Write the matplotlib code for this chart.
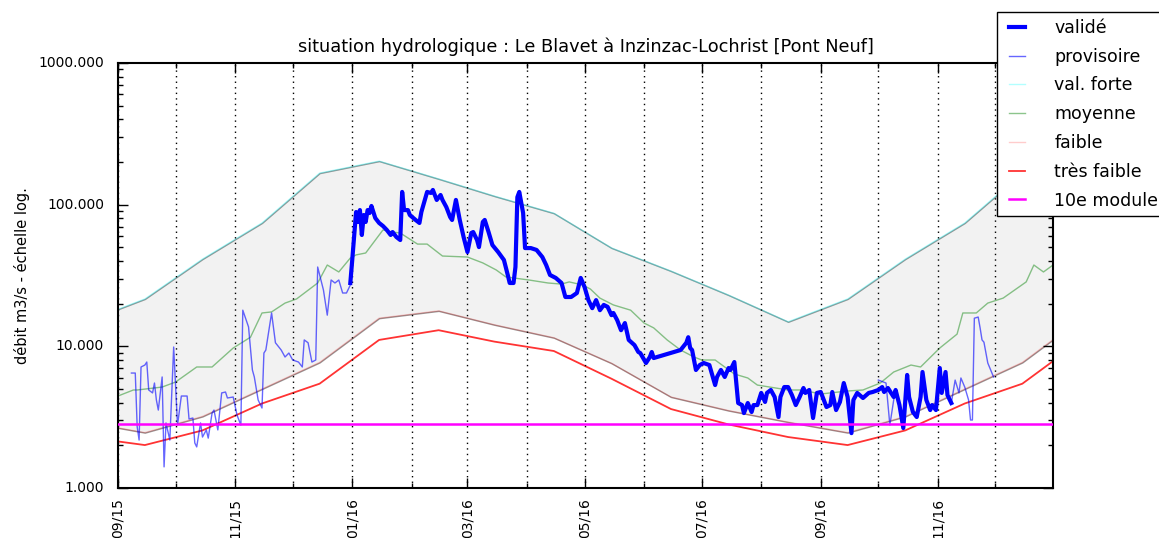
import matplotlib
matplotlib.use('Agg')
import matplotlib.pyplot as plt
import matplotlib.dates as mdates
from matplotlib.ticker import FormatStrFormatter, LogLocator, NullFormatter
import pandas as pd

# débits provisoires (fin 2015)
prov1_dates = ['2015-09-08', '2015-09-10', '2015-09-11', '2015-09-12', '2015-09-13', '2015-09-15',
               '2015-09-16', '2015-09-17', '2015-09-19', '2015-09-20', '2015-09-21', '2015-09-22',
               '2015-09-24', '2015-09-25', '2015-09-26', '2015-09-28', '2015-09-30', '2015-10-02',
               '2015-10-04', '2015-10-07', '2015-10-08', '2015-10-10', '2015-10-11', '2015-10-12',
               '2015-10-14', '2015-10-15', '2015-10-17', '2015-10-18', '2015-10-20', '2015-10-21',
               '2015-10-23', '2015-10-25', '2015-10-27', '2015-10-28', '2015-10-31', '2015-11-02',
               '2015-11-04', '2015-11-05', '2015-11-08', '2015-11-10', '2015-11-11', '2015-11-13',
               '2015-11-15', '2015-11-16', '2015-11-17', '2015-11-20', '2015-11-22', '2015-11-25',
               '2015-11-27', '2015-11-29', '2015-12-01', '2015-12-04', '2015-12-06', '2015-12-07',
               '2015-12-09', '2015-12-11', '2015-12-13', '2015-12-14', '2015-12-17', '2015-12-19',
               '2015-12-21', '2015-12-23', '2015-12-25', '2015-12-27', '2015-12-29', '2015-12-31']
prov1_vals = [6.48, 6.48, 2.70, 2.18, 7.15, 7.38,
              7.75, 4.92, 4.69, 5.51, 4.18, 3.55,
              6.08, 1.41, 2.88, 2.18, 9.89, 2.78,
              4.46, 4.46, 3.07, 3.12, 2.08, 1.95,
              2.88, 2.29, 2.57, 2.25, 3.38, 3.55,
              2.57, 4.69, 4.76, 4.32, 4.39, 3.27,
              2.78, 18.0, 13.7, 6.81, 6.08, 4.18,
              3.67, 8.97, 9.42, 17.2, 10.6, 9.42,
              8.41, 8.97, 8.01, 7.75, 7.15, 11.1,
              10.6, 7.75, 8.01, 36.3, 25.0, 16.6,
              29.4, 28.0, 29.4, 23.8, 23.8, 27.1]

# débits validés 2016
valide_dates = ['2015-12-31', '2016-01-01', '2016-01-03', '2016-01-04', '2016-01-05', '2016-01-06',
                '2016-01-07', '2016-01-08', '2016-01-09', '2016-01-10', '2016-01-11', '2016-01-13',
                '2016-01-15', '2016-01-17', '2016-01-19', '2016-01-21', '2016-01-22', '2016-01-24',
                '2016-01-26', '2016-01-27', '2016-01-28', '2016-01-30', '2016-01-31', '2016-02-03',
                '2016-02-05', '2016-02-06', '2016-02-09', '2016-02-11', '2016-02-12', '2016-02-14',
                '2016-02-16', '2016-02-17', '2016-02-19', '2016-02-21', '2016-02-22', '2016-02-24',
                '2016-02-26', '2016-02-28', '2016-03-01', '2016-03-03', '2016-03-04', '2016-03-06',
                '2016-03-07', '2016-03-09', '2016-03-10', '2016-03-12', '2016-03-14', '2016-03-17',
                '2016-03-20', '2016-03-22', '2016-03-23', '2016-03-25', '2016-03-26', '2016-03-27',
                '2016-03-28', '2016-03-30', '2016-03-31', '2016-04-03', '2016-04-06', '2016-04-09',
                '2016-04-11', '2016-04-13', '2016-04-16', '2016-04-19', '2016-04-21', '2016-04-24',
                '2016-04-27', '2016-04-29', '2016-05-01', '2016-05-03', '2016-05-05', '2016-05-07',
                '2016-05-09', '2016-05-11', '2016-05-13', '2016-05-15', '2016-05-16', '2016-05-18',
                '2016-05-20', '2016-05-22', '2016-05-24', '2016-05-27', '2016-05-29', '2016-05-30',
                '2016-06-02', '2016-06-04', '2016-06-05', '2016-06-06', '2016-06-20', '2016-06-23',
                '2016-06-24', '2016-06-25', '2016-06-26', '2016-06-28', '2016-06-30', '2016-07-02',
                '2016-07-05', '2016-07-08', '2016-07-09', '2016-07-11', '2016-07-13', '2016-07-15',
                '2016-07-16', '2016-07-18', '2016-07-20', '2016-07-22', '2016-07-23', '2016-07-25',
                '2016-07-27', '2016-07-28', '2016-07-30', '2016-08-01', '2016-08-03', '2016-08-04',
                '2016-08-06', '2016-08-08', '2016-08-10', '2016-08-11', '2016-08-13', '2016-08-15',
                '2016-08-17', '2016-08-19', '2016-08-21', '2016-08-23', '2016-08-24', '2016-08-26',
                '2016-08-28', '2016-08-30', '2016-09-01', '2016-09-04', '2016-09-06', '2016-09-07',
                '2016-09-09', '2016-09-11', '2016-09-13', '2016-09-15', '2016-09-17', '2016-09-18',
                '2016-09-20', '2016-09-23', '2016-09-26', '2016-09-28', '2016-10-01', '2016-10-03',
                '2016-10-04', '2016-10-06', '2016-10-09', '2016-10-10', '2016-10-12', '2016-10-14',
                '2016-10-16', '2016-10-17', '2016-10-19', '2016-10-21', '2016-10-23', '2016-10-24',
                '2016-10-26', '2016-10-28', '2016-10-29', '2016-10-31', '2016-11-02', '2016-11-03',
                '2016-11-05', '2016-11-06', '2016-11-08']
valide_vals = [28.0, 40.7, 88.7, 75.5, 91.6, 61.1,
               84.5, 75.5, 91.6, 87.3, 97.9, 80.5,
               74.3, 70.7, 66.3, 61.1, 64.1, 59.1,
               56.3, 123, 91.6, 91.6, 84.5, 78.0,
               74.3, 88.7, 123, 121, 127, 108,
               117, 108, 96.2, 81.8, 78.0, 108,
               78.0, 59.1, 46.3, 63.1, 64.1, 56.3,
               50.2, 75.5, 78.0, 64.1, 51.9, 46.3,
               40.7, 31.9, 28.0, 28.0, 36.3, 113,
               123, 87.3, 49.4, 49.4, 47.9, 42.7,
               37.5, 31.9, 30.4, 28.0, 22.3, 22.3,
               23.8, 30.4, 26.2, 21.2, 18.6, 21.2,
               18.0, 19.6, 19.0, 16.6, 17.2, 15.3,
               13.0, 14.6, 11.1, 10.2, 9.12, 8.97,
               7.63, 8.41, 9.12, 8.27, 9.42, 10.6,
               11.6, 9.73, 9.42, 6.81, 7.38, 7.63,
               7.38, 5.33, 6.08, 6.81, 6.08, 7.03,
               6.81, 7.75, 3.98, 3.85, 3.38, 3.98,
               3.44, 3.85, 3.85, 4.69, 4.05, 4.69,
               4.92, 4.39, 3.17, 4.39, 5.16, 5.16,
               4.53, 3.85, 4.39, 5.08, 4.69, 4.92,
               3.12, 4.69, 4.76, 3.73, 3.85, 4.76,
               3.55, 4.05, 5.51, 4.39, 2.44, 4.18,
               4.69, 4.32, 4.69, 4.76, 4.92, 5.16,
               4.76, 5.08, 4.39, 4.92, 3.85, 2.65,
               6.28, 4.39, 3.44, 3.17, 4.39, 6.59,
               4.18, 3.55, 3.85, 3.55, 7.03, 4.69,
               6.59, 4.53, 3.98]

# débits provisoires (fin 2016)
prov2_dates = ['2016-10-01', '2016-10-05', '2016-10-07', '2016-10-09', '2016-10-10', '2016-10-12',
               '2016-10-14', '2016-10-16', '2016-10-17', '2016-10-19', '2016-10-21', '2016-10-23',
               '2016-10-24', '2016-10-26', '2016-10-28', '2016-10-29', '2016-10-31', '2016-11-02',
               '2016-11-03', '2016-11-05', '2016-11-06', '2016-11-08', '2016-11-10', '2016-11-12',
               '2016-11-13', '2016-11-15', '2016-11-17', '2016-11-18', '2016-11-19', '2016-11-20',
               '2016-11-22', '2016-11-23', '2016-11-24', '2016-11-25', '2016-11-27', '2016-11-30']
prov2_vals = [5.78, 5.51, 2.78, 4.18, 4.92, 3.85,
              2.65, 6.28, 4.39, 3.44, 3.17, 4.39,
              6.59, 4.05, 3.55, 3.85, 3.55, 7.03,
              4.69, 6.59, 4.53, 3.98, 5.78, 4.69,
              5.98, 5.16, 4.18, 3.02, 3.02, 15.8,
              16.1, 13.5, 11.1, 10.7, 7.63, 6.08]

# débit moyen interannuel
moy_dates = ['2015-09-01', '2015-09-09', '2015-09-11', '2015-09-24', '2015-10-01', '2015-10-12',
             '2015-10-20', '2015-10-31', '2015-11-09', '2015-11-15', '2015-11-20', '2015-11-27',
             '2015-12-03', '2015-12-14', '2015-12-19', '2015-12-25', '2015-12-31', '2016-01-03',
             '2016-01-08', '2016-01-17', '2016-01-22', '2016-01-26', '2016-02-04', '2016-02-09',
             '2016-02-17', '2016-03-01', '2016-03-09', '2016-03-16', '2016-03-21', '2016-04-02',
             '2016-04-12', '2016-04-19', '2016-04-23', '2016-04-30', '2016-05-04', '2016-05-09',
             '2016-05-16', '2016-05-25', '2016-06-01', '2016-06-06', '2016-06-13', '2016-06-20',
             '2016-06-27', '2016-07-01', '2016-07-08', '2016-07-18', '2016-07-25', '2016-07-30',
             '2016-08-02', '2016-08-15', '2016-08-22', '2016-09-01', '2016-09-06', '2016-09-15',
             '2016-09-23', '2016-10-02', '2016-10-09', '2016-10-18', '2016-10-23', '2016-11-02',
             '2016-11-11', '2016-11-14', '2016-11-21', '2016-11-27', '2016-12-05', '2016-12-17',
             '2016-12-21', '2016-12-26', '2016-12-31']
moy_vals = [4.46, 4.92, 4.92, 5.16, 5.60, 7.15,
            7.15, 9.73, 11.6, 17.2, 17.5, 20.2,
            21.6, 28.0, 37.5, 33.5, 42.0, 44.2,
            45.6, 66.3, 64.1, 63.1, 52.7, 52.7,
            43.4, 42.7, 38.8, 34.6, 30.9, 29.4,
            28.0, 27.5, 28.5, 27.1, 25.4, 21.9,
            19.6, 18.0, 14.6, 13.5, 11.1, 9.42,
            8.41, 8.01, 8.01, 6.38, 5.98, 5.33,
            5.25, 4.92, 4.92, 4.61, 4.69, 4.84,
            4.92, 5.51, 6.59, 7.38, 7.15, 9.73,
            12.2, 17.2, 17.2, 20.2, 21.9, 28.5,
            37.5, 33.5, 37.5]

# statistiques mensuelles (janvier -> décembre), tracées au 15 du mois
val_forte_mois = [203, 152, 115, 87, 49.5, 34, 23, 14.9, 21.6, 41.3, 74.3, 167]
faible_mois = [15.8, 17.8, 14.2, 11.5, 7.6, 4.39, 3.52, 2.92, 2.46, 3.2, 5.0, 7.7]
tres_faible_mois = [11.1, 13.0, 10.8, 9.27, 5.91, 3.61, 2.81, 2.29, 2.01, 2.55, 3.95, 5.45]
module_10e = 2.83

stat_dates = pd.date_range('2015-08-01', '2017-01-01', freq='MS') + pd.Timedelta(days=14)
val_forte = [val_forte_mois[d.month - 1] for d in stat_dates]
faible = [faible_mois[d.month - 1] for d in stat_dates]
tres_faible = [tres_faible_mois[d.month - 1] for d in stat_dates]

plt.style.use('classic')
plt.rcParams['font.family'] = ['DejaVu Sans']

fig = plt.figure(figsize=(11.59, 5.38), dpi=100, facecolor='white')
ax = fig.add_axes([0.1018, 0.0929, 0.8068, 0.79])

# enveloppe grisée entre faible et val. forte (bord gris semi-transparent)
ax.fill_between(stat_dates, faible, val_forte, facecolor=(0, 0, 0, 0.05),
                edgecolor=(0, 0, 0, 0.4), lw=1, zorder=1)

ax.plot(pd.to_datetime(valide_dates), valide_vals, color='#0000ff', lw=3, label='validé', zorder=3)
ax.plot(pd.to_datetime(prov1_dates), prov1_vals, color='#0000ff', lw=1, alpha=0.6,
        label='provisoire', zorder=3)
ax.plot(pd.to_datetime(prov2_dates), prov2_vals, color='#0000ff', lw=1, alpha=0.6, zorder=3)
ax.plot(stat_dates, val_forte, color='#00ffff', lw=1, alpha=0.3, label='val. forte', zorder=2)
ax.plot(pd.to_datetime(moy_dates), moy_vals, color='#008000', lw=1, alpha=0.45,
        label='moyenne', zorder=2)
ax.plot(stat_dates, faible, color='#ff0000', lw=1, alpha=0.2, label='faible', zorder=2)
ax.plot(stat_dates, tres_faible, color='#ff0000', lw=1.3, alpha=0.8, label='très faible', zorder=2)
ax.axhline(module_10e, color='#ff00ff', lw=1.8, label='10e module', zorder=3)

ax.set_yscale('log')
ax.set_ylim(1, 1000)
ax.set_xlim(pd.Timestamp('2015-09-01'), pd.Timestamp('2016-12-31'))
ax.yaxis.set_major_formatter(FormatStrFormatter('%.3f'))
ax.yaxis.set_minor_locator(LogLocator(base=10, subs=range(2, 10)))
ax.yaxis.set_minor_formatter(NullFormatter())

ax.xaxis.set_major_locator(mdates.MonthLocator(bymonth=[1, 3, 5, 7, 9, 11]))
ax.xaxis.set_minor_locator(mdates.MonthLocator())
ax.xaxis.set_major_formatter(mdates.DateFormatter('%m/%y'))
ax.xaxis.grid(True, which='both', color='k', linestyle=(0, (1, 3)), lw=1)
ax.yaxis.grid(False)
for lab in ax.get_xticklabels():
    lab.set_rotation(90)
ax.tick_params(labelsize=10)
ax.tick_params(axis='y', pad=10)
ax.tick_params(axis='x', pad=7)
ax.tick_params(which='major', length=7, width=1)
ax.tick_params(which='minor', length=3.5, width=1)
for s in ax.spines.values():
    s.set_linewidth(1.5)

ax.set_title('situation hydrologique : Le Blavet à Inzinzac-Lochrist [Pont Neuf]',
             fontsize=12.75, pad=8)
ax.set_ylabel('débit m3/s - échelle log.', fontsize=10.5, labelpad=6)

fig.legend(loc='upper left', bbox_to_anchor=(0.8602, 0.9777), bbox_transform=fig.transFigure,
           borderaxespad=0, fontsize=12.5, handlelength=1.5, handletextpad=1.4,
           labelspacing=0.62, fancybox=False, framealpha=1, edgecolor='k')

fig.savefig('out.png', dpi=100, facecolor='white')
